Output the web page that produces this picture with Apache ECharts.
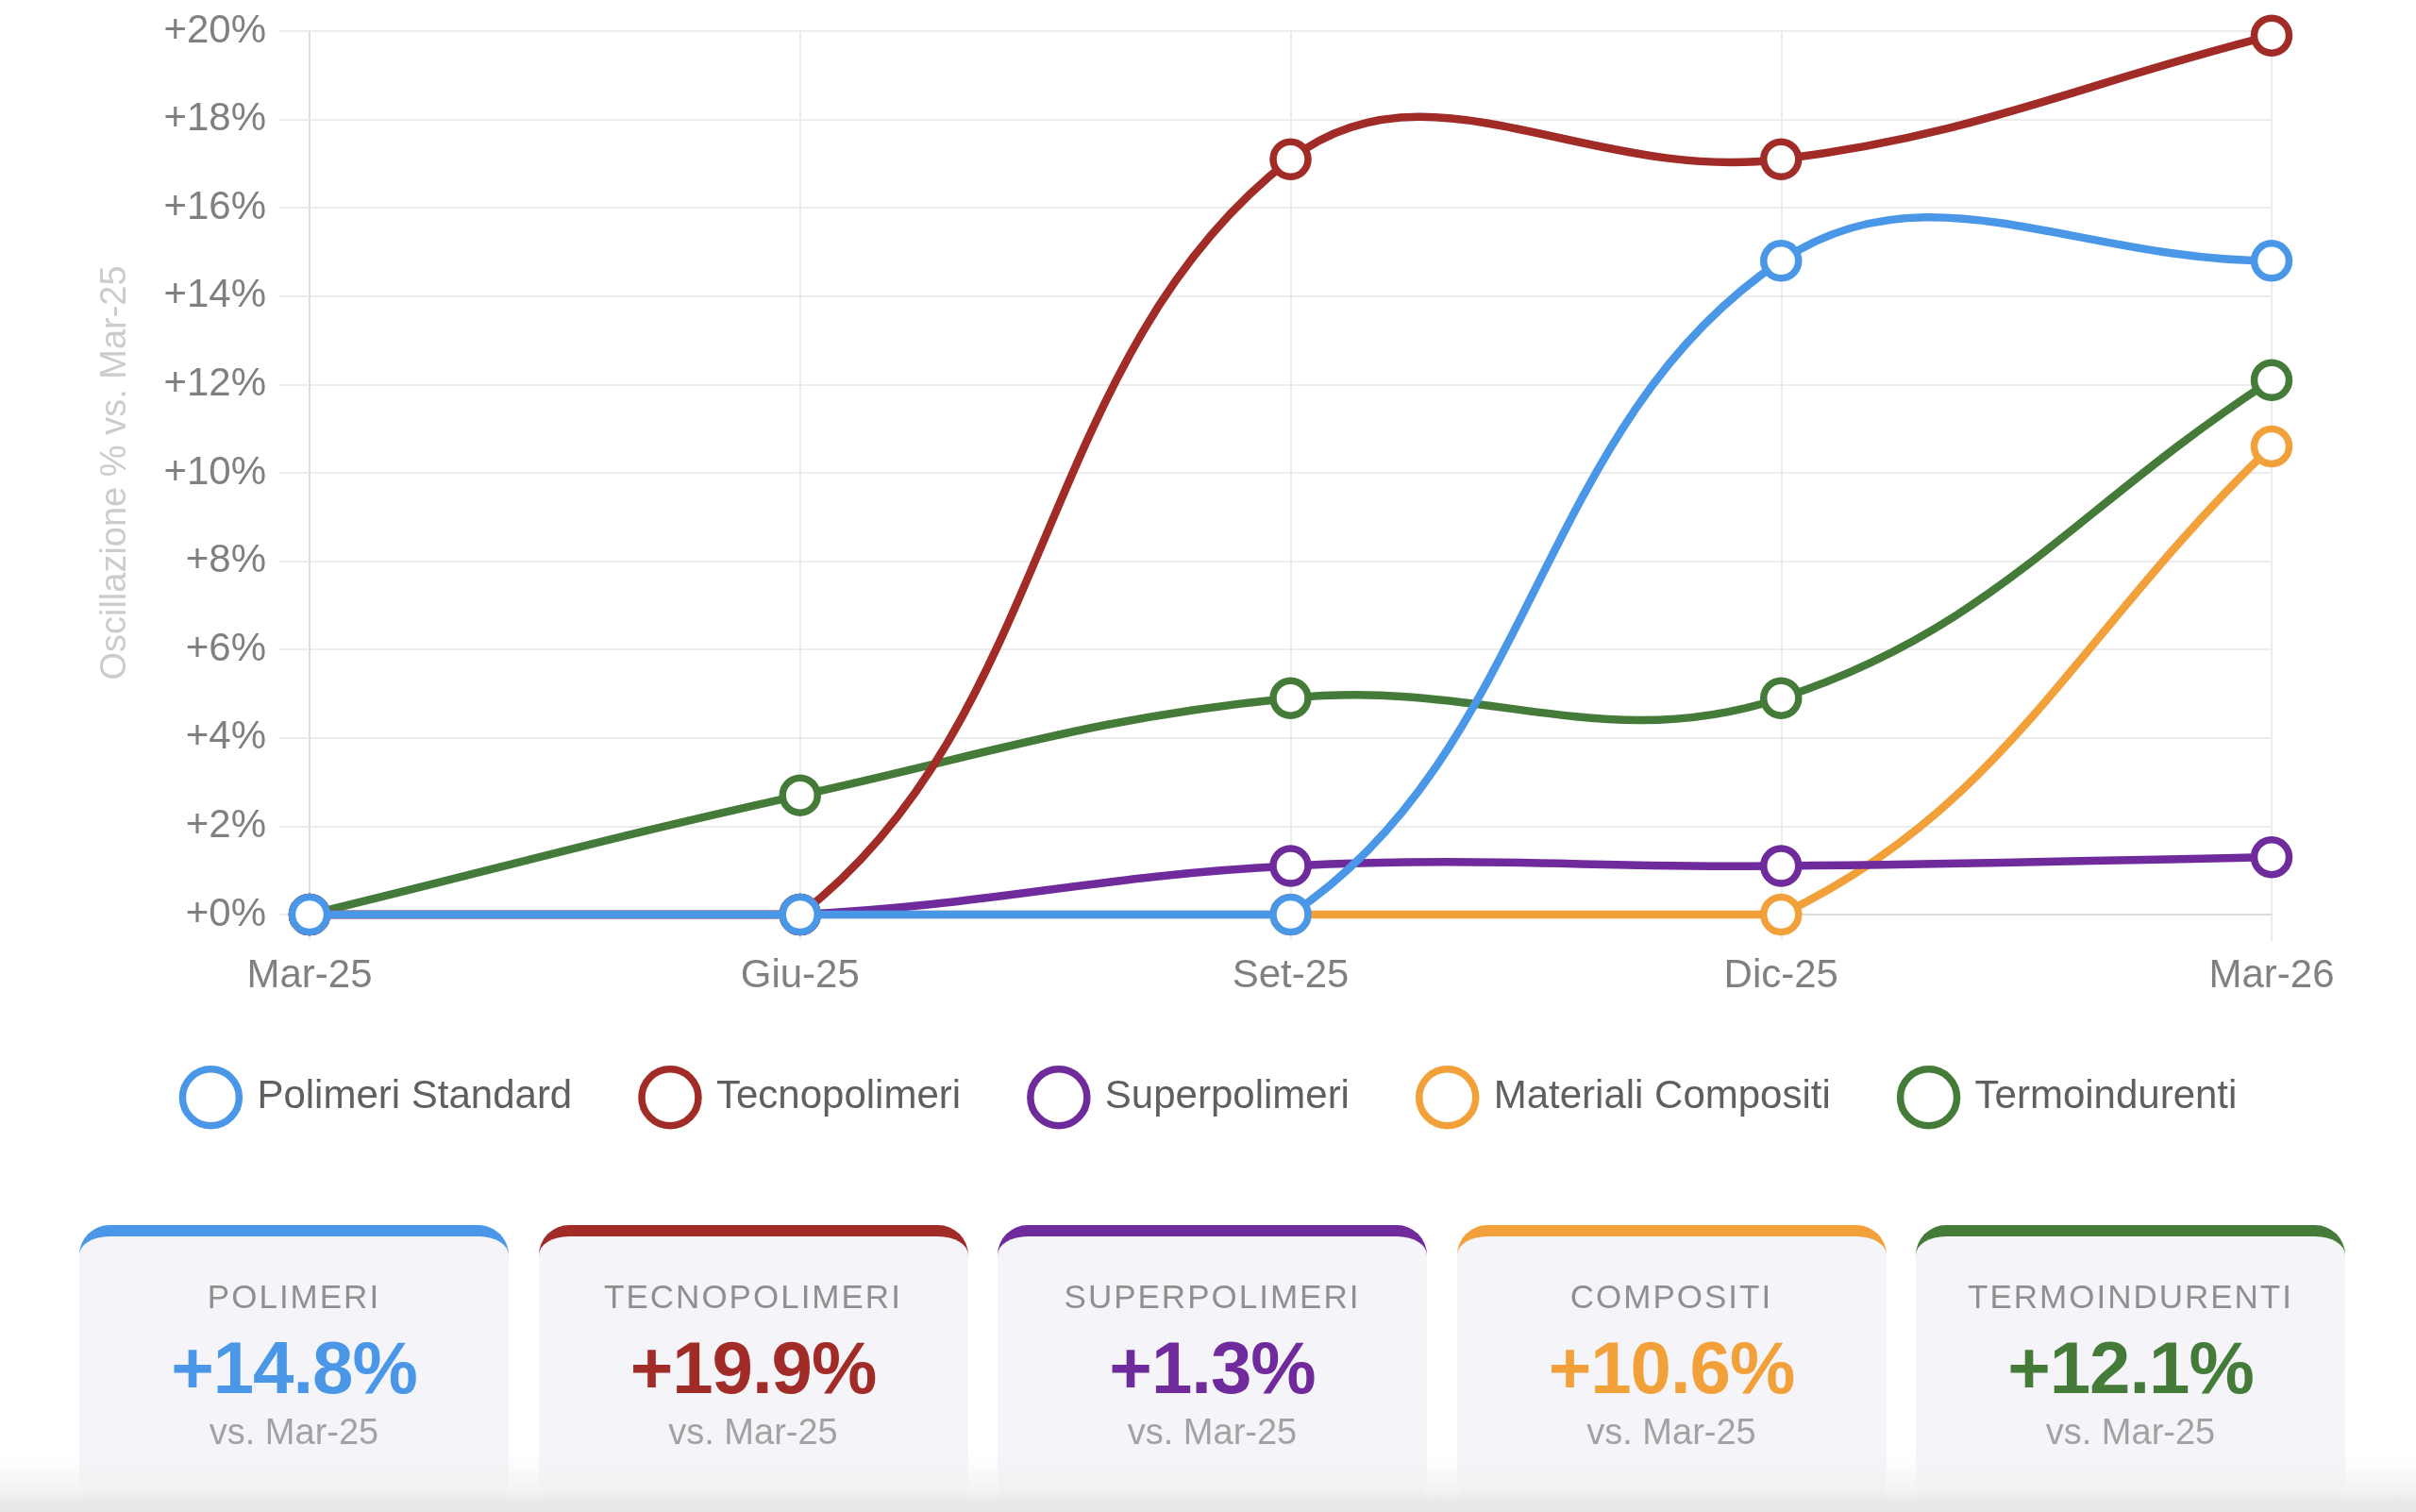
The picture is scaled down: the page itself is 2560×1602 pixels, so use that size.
<!DOCTYPE html>
<html>
<head>
<meta charset="utf-8">
<script src="https://cdn.jsdelivr.net/npm/echarts@6/dist/echarts.min.js"></script>
<style>
  html, body { margin: 0; padding: 0; background: #fff; }
  body { width: 2560px; height: 1602px; position: relative; overflow: hidden;
         font-family: 'Liberation Sans', Arial, Helvetica, sans-serif; }
  #main { position: absolute; left: 0; top: 0; width: 2560px; height: 1602px; }
  #cards { position: absolute; left: 84px; top: 1298px; width: 2401px; display: flex; gap: 31.5px; }
  .card { flex: 1; height: 300px; box-sizing: border-box; border-top: 12px solid #999;
          border-radius: 32px; background: #f5f4f9; text-align: center; }
  .card .t { margin-top: 44px; font-size: 35px; line-height: 40px; letter-spacing: 2px; color: #8f8f8f; }
  .card .v { margin-top: 15px; font-size: 78px; line-height: 80px; font-weight: bold; letter-spacing: -1px; }
  .card .s { margin-top: 6px; font-size: 38px; line-height: 44px; color: #a2a2a2; }
  #fade { position: absolute; left: 0; width: 2560px; top: 1540px; height: 62px; z-index: 5;
          background: linear-gradient(to bottom, rgba(244,244,244,0) 0%, rgba(240,240,240,0.8) 65%,
                      #ebebeb 76%, #e6e6e6 100%); }
</style>
</head>
<body>
<div id="main"></div>
<div id="cards"></div>
<div id="fade"></div>
<script>
const categories = ['Mar-25', 'Giu-25', 'Set-25', 'Dic-25', 'Mar-26'];
const seriesNames = ['Polimeri Standard', 'Tecnopolimeri', 'Superpolimeri', 'Materiali Compositi', 'Termoindurenti'];
const polimeriStandard = [0, 0, 0, 14.8, 14.8];
const tecnopolimeri = [0, 0, 17.1, 17.1, 19.9];
const superpolimeri = [0, 0, 1.1, 1.1, 1.3];
const materialiCompositi = [0, 0, 0, 0, 10.6];
const termoindurenti = [0, 2.7, 4.9, 4.9, 12.1];
const colors = ['#4a97e8', '#a12b26', '#6f2a9b', '#f2a03a', '#457b38'];
const cardLabels = ['POLIMERI', 'TECNOPOLIMERI', 'SUPERPOLIMERI', 'COMPOSITI', 'TERMOINDURENTI'];
const baseLabel = 'vs. Mar-25';

const allValues = [polimeriStandard, tecnopolimeri, superpolimeri, materialiCompositi, termoindurenti];
const tension = 0.4;

// spline control points like a tension curve, capped to the plot area
function controlPoints(pts, area) {
  const cps = [];
  const clampX = (x) => Math.min(Math.max(x, area.x), area.x + area.width);
  const clampY = (y) => Math.min(Math.max(y, area.y), area.y + area.height);
  for (let i = 0; i < pts.length; i++) {
    const prev = pts[Math.max(i - 1, 0)];
    const cur = pts[i];
    const next = pts[Math.min(i + 1, pts.length - 1)];
    const d01 = Math.hypot(cur[0] - prev[0], cur[1] - prev[1]);
    const d12 = Math.hypot(next[0] - cur[0], next[1] - cur[1]);
    let s01 = d01 / (d01 + d12), s12 = d12 / (d01 + d12);
    if (isNaN(s01)) s01 = 0;
    if (isNaN(s12)) s12 = 0;
    const fa = tension * s01, fb = tension * s12;
    cps.push({
      prev: [clampX(cur[0] - fa * (next[0] - prev[0])), clampY(cur[1] - fa * (next[1] - prev[1]))],
      next: [clampX(cur[0] + fb * (next[0] - prev[0])), clampY(cur[1] + fb * (next[1] - prev[1]))]
    });
  }
  return cps;
}

function makeRender(k) {
  return function (params, api) {
    const values = allValues[k];
    const pts = values.map((v, i) => api.coord([i, v]));
    const cps = controlPoints(pts, params.coordSys);
    const i = params.dataIndex;
    const children = [];
    if (i < pts.length - 1) {
      children.push({
        type: 'bezierCurve',
        z2: 1,
        shape: {
          x1: pts[i][0], y1: pts[i][1],
          cpx1: cps[i].next[0], cpy1: cps[i].next[1],
          cpx2: cps[i + 1].prev[0], cpy2: cps[i + 1].prev[1],
          x2: pts[i + 1][0], y2: pts[i + 1][1]
        },
        style: { stroke: colors[k], lineWidth: 8.5, fill: null, lineCap: 'round' }
      });
    }
    children.push({
      type: 'circle',
      z2: 10,
      shape: { cx: pts[i][0], cy: pts[i][1], r: 18.5 },
      style: { fill: '#fff', stroke: colors[k], lineWidth: 7.5 }
    });
    return { type: 'group', children: children };
  };
}

const chart = echarts.init(document.getElementById('main'));

const option = {
  animation: false,
  textStyle: { fontFamily: 'Liberation Sans, Arial, Helvetica, sans-serif' },
  grid: { left: 328, right: 153, top: 33, bottom: 633 },
  legend: {
    top: 1124,
    left: 'center',
    itemWidth: 60,
    itemHeight: 60,
    itemGap: 70,
    textStyle: { fontSize: 42, color: '#5f5f5f', padding: [0, 0, 0, 14] },
    data: seriesNames.map((n, k) => ({
      name: n,
      icon: 'circle',
      itemStyle: { color: '#fff', borderColor: colors[k], borderWidth: 7.5 }
    }))
  },
  xAxis: {
    type: 'category',
    data: categories,
    boundaryGap: false,
    axisLine: { lineStyle: { color: '#dcdcdc', width: 2 } },
    axisTick: { show: true, length: 28, lineStyle: { color: '#ececec', width: 2 } },
    splitLine: { show: true, lineStyle: { color: '#ececec', width: 2 } },
    axisLabel: { fontSize: 42, color: '#808080', margin: 44 }
  },
  yAxis: {
    type: 'value',
    min: 0,
    max: 20,
    interval: 2,
    name: 'Oscillazione % vs. Mar-25',
    nameLocation: 'middle',
    nameGap: 186,
    nameRotate: 90,
    nameTextStyle: { fontSize: 38, color: '#cccccc' },
    axisLine: { show: true, lineStyle: { color: '#dcdcdc', width: 2 } },
    axisTick: { show: true, length: 32, lineStyle: { color: '#ececec', width: 2 } },
    splitLine: { show: true, lineStyle: { color: '#ececec', width: 2 } },
    axisLabel: { fontSize: 42, color: '#808080', margin: 46, formatter: (v) => '+' + v + '%' }
  },
  series: seriesNames.map((n, k) => ({
    name: n,
    type: 'custom',
    clip: false,
    z: 10 - k,
    itemStyle: { color: colors[k] },
    encode: { x: 0, y: 1 },
    data: allValues[k].map((v, i) => [i, v]),
    renderItem: makeRender(k)
  }))
};

chart.setOption(option);

// summary cards built from the last value of each series
const cardsEl = document.getElementById('cards');
cardLabels.forEach((label, k) => {
  const vals = allValues[k];
  const last = vals[vals.length - 1];
  const card = document.createElement('div');
  card.className = 'card';
  card.style.borderTopColor = colors[k];
  card.innerHTML =
    '<div class="t">' + label + '</div>' +
    '<div class="v" style="color:' + colors[k] + '">+' + last.toFixed(1) + '%</div>' +
    '<div class="s">' + baseLabel + '</div>';
  cardsEl.appendChild(card);
});
</script>
</body>
</html>
